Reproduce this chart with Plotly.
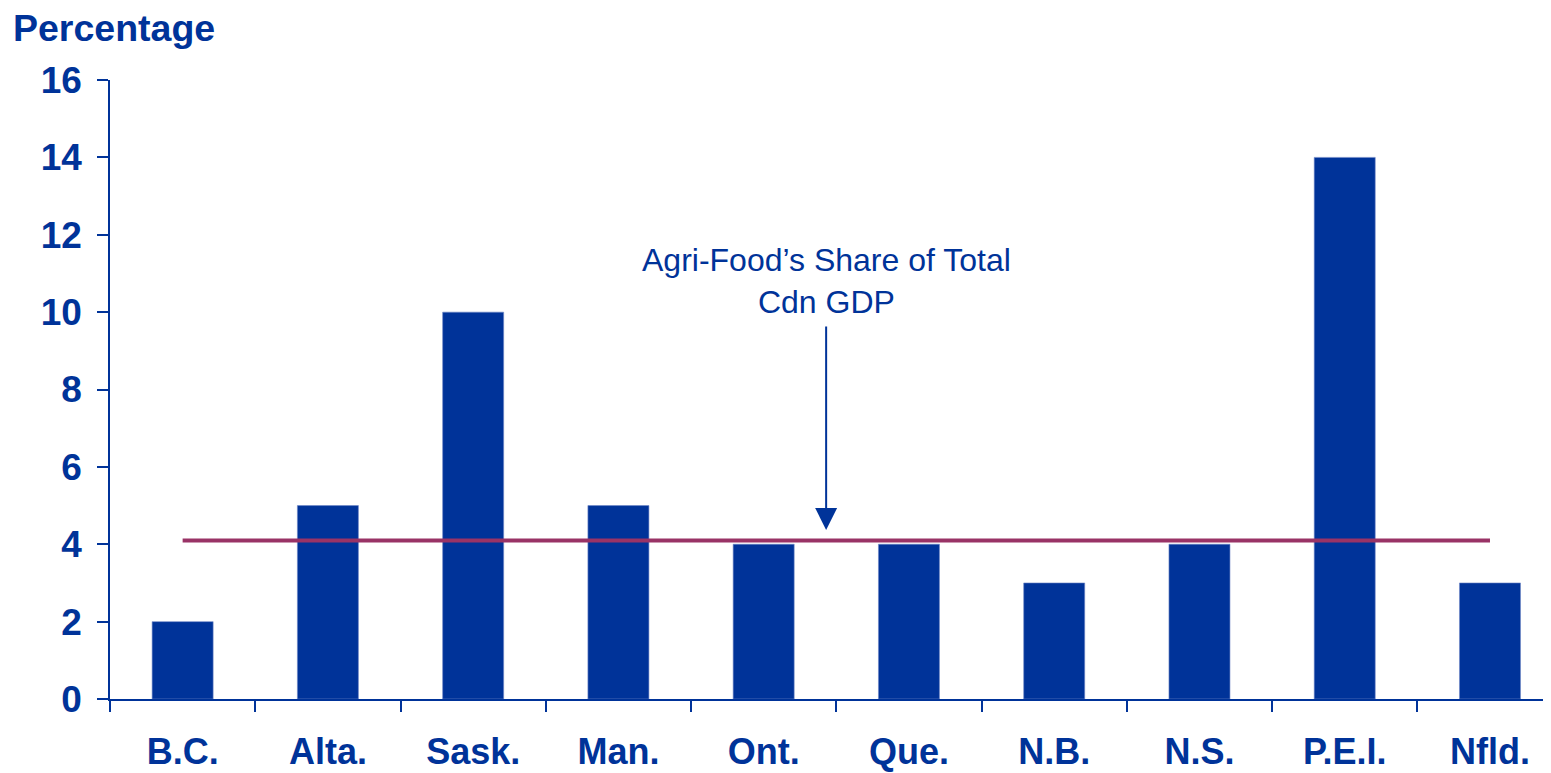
import plotly.graph_objects as go

BLUE = "#003399"
MAROON = "#993366"
FONT = "Liberation Sans, Arial, sans-serif"

provinces = ["B.C.", "Alta.", "Sask.", "Man.", "Ont.", "Que.", "N.B.", "N.S.", "P.E.I.", "Nfld."]
share_pct = [2, 5, 10, 5, 4, 4, 3, 4, 14, 3]
canada_share = 4.1

fig = go.Figure()
fig.add_trace(
    go.Bar(
        x=provinces,
        y=share_pct,
        width=0.42,
        marker=dict(color=BLUE, line=dict(color="#6f86c6", width=0.6)),
        showlegend=False,
    )
)
fig.add_trace(
    go.Scatter(
        x=provinces,
        y=[canada_share] * len(provinces),
        mode="lines",
        line=dict(color=MAROON, width=4),
        showlegend=False,
    )
)

# arrow pointing at the national average line
fig.add_annotation(
    x=4.43, y=4.37, xref="x", yref="y",
    ax=4.43, ay=9.67, axref="x", ayref="y",
    text="", showarrow=True,
    arrowhead=2, arrowsize=2.2, arrowwidth=2, arrowcolor=BLUE, standoff=0,
)
fig.add_annotation(
    x=4.43, y=10.8, xref="x", yref="y",
    text="Agri-Food\u2019s Share of Total<br>Cdn GDP",
    showarrow=False, yanchor="middle",
    font=dict(family=FONT, size=32, color=BLUE),
)

fig.update_layout(
    width=1551,
    height=773,
    margin=dict(l=102, r=8, t=72, b=82, autoexpand=False),
    paper_bgcolor="white",
    plot_bgcolor="white",
    title=dict(
        text="<b>Percentage</b>",
        x=5 / 1551, xanchor="left", xref="container",
        y=1 - 20 / 773, yanchor="middle", yref="container",
        font=dict(family=FONT, size=37.5, color=BLUE),
    ),
    xaxis=dict(
        range=[-0.5, 9.42],
        showline=True, linecolor=BLUE, linewidth=1.5,
        ticks="outside", tickson="boundaries", ticklen=11, tickcolor=BLUE, tickwidth=1.5,
        tickfont=dict(family=FONT, size=36, color=BLUE, weight="bold"),
        ticklabelstandoff=20,
        showgrid=False, zeroline=False,
    ),
    yaxis=dict(
        range=[0, 16], tickvals=[0, 2, 4, 6, 8, 10, 12, 14, 16],
        showline=True, linecolor=BLUE, linewidth=1.5,
        ticks="outside", ticklen=11, tickcolor=BLUE, tickwidth=1.5,
        tickfont=dict(family=FONT, size=37, color=BLUE, weight="bold"),
        ticklabelstandoff=8,
        showgrid=False, zeroline=False,
    ),
)

fig.write_html("out.html")
